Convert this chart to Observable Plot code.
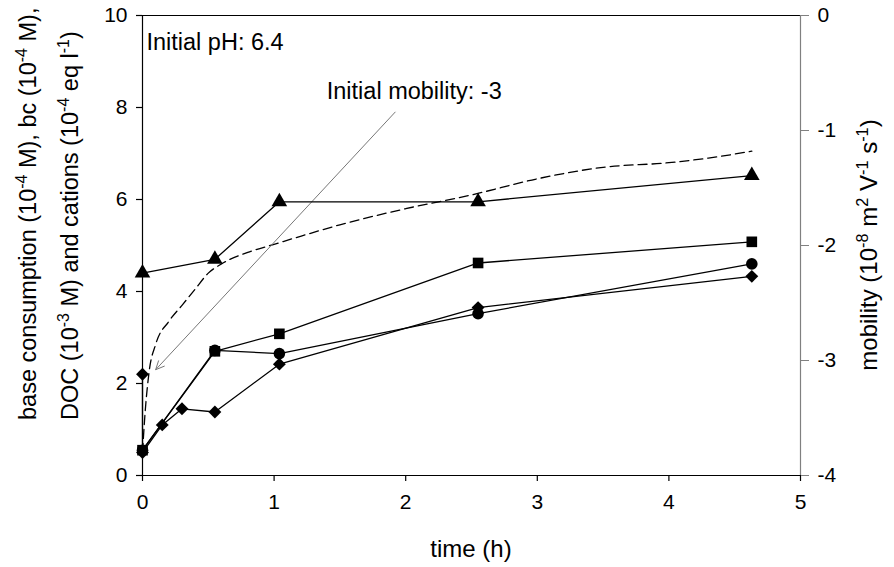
<!DOCTYPE html>
<html>
<head>
<meta charset="utf-8">
<script src="https://cdn.jsdelivr.net/npm/d3@7"></script>
<script src="https://cdn.jsdelivr.net/npm/@observablehq/plot@0.6"></script>
<style>
  html, body { margin: 0; padding: 0; background: #fff; }
  #chart svg { display: block; }
</style>
</head>
<body>
<div id="chart"></div>
<script>
// ---- data ----
const xTicks = [0, 1, 2, 3, 4, 5];
const yTicks = [0, 2, 4, 6, 8, 10];
const mobilityTicks = [-4, -3, -2, -1, 0];
const mobilityTickLabels = ["-4", "-3", "-2", "-1", "0"];

const seriesTime = [0, 0.55, 1.04, 2.55, 4.63];
const triangleValues = [4.4, 4.7, 5.95, 5.95, 6.52];
const squareValues = [0.55, 2.7, 3.08, 4.62, 5.08];
const circleValues = [0.55, 2.72, 2.65, 3.52, 4.6];

const diamondTime = [0, 0, 0.15, 0.3, 0.55, 1.04, 2.55, 4.63];
const diamondValues = [2.2, 0.5, 1.1, 1.45, 1.38, 2.42, 3.65, 4.33];

// mobility (right axis, 10^-8 m2 V-1 s-1)
const mobilityTime = [0, 0.02, 0.05, 0.1, 0.2, 0.3, 0.4, 0.5, 0.6, 0.8, 1.0, 1.2, 1.5, 2.0, 2.5, 3.0, 3.5, 4.0, 4.3, 4.63];
const mobilityValues = [-3.8, -3.45, -3.1, -2.86, -2.66, -2.52, -2.38, -2.24, -2.16, -2.06, -1.99, -1.92, -1.82, -1.68, -1.56, -1.42, -1.32, -1.28, -1.24, -1.18];

const notes = [
  {x: 0.03, y: 9.42, text: "Initial pH: 6.4"},
  {x: 1.4, y: 8.35, text: "Initial mobility: -3"}
];
const pointer = [{x1: 1.92, y1: 7.9, x2: 0.1, y2: 2.3}];

// ---- build tables ----
const mobToLeft = m => (m + 4) * 2.5;
const tri = seriesTime.map((t, i) => ({t, v: triangleValues[i]}));
const sq = seriesTime.map((t, i) => ({t, v: squareValues[i]}));
const ci = seriesTime.map((t, i) => ({t, v: circleValues[i]}));
const di = diamondTime.map((t, i) => ({t, v: diamondValues[i]}));
const mob = mobilityTime.map((t, i) => ({t, m: mobilityValues[i]}));

const font = "'Liberation Sans', Arial, sans-serif";
const lineStyle = {x: "t", y: "v", stroke: "black", strokeWidth: 1.3};

const chart = Plot.plot({
  width: 894,
  height: 567,
  marginLeft: 142,
  marginRight: 94,
  marginTop: 15,
  marginBottom: 92,
  style: {fontFamily: font, fontSize: "21px", background: "white", color: "black", overflow: "visible"},
  x: {domain: [0, 5]},
  y: {domain: [0, 10]},
  marks: [
    Plot.ruleY([10], {stroke: "black", strokeWidth: 1.2}),
    Plot.ruleX([5], {stroke: "#808080", strokeWidth: 1.2}),
    Plot.axisX({ticks: xTicks, tickFormat: d3.format("d"), tickSize: 6, tickPadding: 13, label: null, fontSize: 21, strokeWidth: 1.2}),
    Plot.axisY({ticks: yTicks, tickSize: 6, tickPadding: 9, label: null, fontSize: 21, strokeWidth: 1.2}),
    Plot.axisY({
      anchor: "right",
      ticks: mobilityTicks.map(mobToLeft),
      tickFormat: (d, i) => mobilityTickLabels[i],
      tickSize: 8, tickPadding: 9, label: null, fontSize: 21,
      stroke: "#808080", fill: "black"
    }),
    Plot.ruleX([0], {stroke: "black", strokeWidth: 1.2}),
    Plot.ruleY([0], {stroke: "black", strokeWidth: 1.2}),

    Plot.line(mob, {x: "t", y: d => mobToLeft(d.m), stroke: "black", strokeWidth: 1.3, strokeDasharray: "9,5", curve: "monotone-x"}),

    Plot.arrow(pointer, {x1: "x1", y1: "y1", x2: "x2", y2: "y2", stroke: "#777", strokeWidth: 1, headLength: 14, headAngle: 50}),

    Plot.line(tri, lineStyle),
    Plot.line(sq, lineStyle),
    Plot.line(ci, lineStyle),
    Plot.line(di, lineStyle),

    Plot.dot(tri, {x: "t", y: "v", symbol: "triangle", r: 5.8, fill: "black"}),
    Plot.dot(sq, {x: "t", y: "v", symbol: "square", r: 6.0, fill: "black"}),
    Plot.dot(ci, {x: "t", y: "v", symbol: "circle", r: 5.8, fill: "black"}),
    Plot.dot(di, {x: "t", y: "v", symbol: "diamond2", r: 5.8, fill: "black"}),

    Plot.text(notes, {x: "x", y: "y", text: "text", textAnchor: "start", fontSize: 23.5, fill: "black"})
  ]
});

document.getElementById("chart").appendChild(chart);

// ---- axis titles with superscripts ----
const svg = d3.select(chart);
function addLabel(x, y, rotate, anchor, size, parts) {
  const t = svg.append("text")
    .attr("transform", `translate(${x},${y}) rotate(${rotate})`)
    .attr("text-anchor", anchor)
    .attr("font-family", font)
    .attr("font-size", size)
    .attr("fill", "black");
  let up = false;
  parts.forEach(([s, sup]) => {
    const ts = t.append("tspan").text(s);
    if (sup && !up) { ts.attr("dy", -9).attr("font-size", size * 0.68); up = true; }
    else if (!sup && up) { ts.attr("dy", 9); up = false; }
  });
}
addLabel(36, 420, -90, "start", 23.5, [["base consumption (10"], ["-4", true], [" M), bc (10"], ["-4", true], [" M),"]]);
addLabel(78, 420, -90, "start", 23.5, [["DOC (10"], ["-3", true], [" M) and cations (10"], ["-4", true], [" eq l"], ["-1", true], [")"]]);
addLabel(877, 245, -90, "middle", 24, [["mobility (10"], ["-8", true], [" m"], ["2", true], [" V"], ["-1", true], [" s"], ["-1", true], [")"]]);
addLabel(471, 557, 0, "middle", 24, [["time (h)"]]);
</script>
</body>
</html>
